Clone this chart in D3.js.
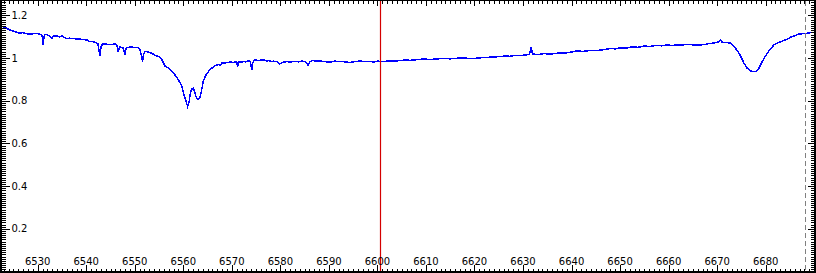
<!DOCTYPE html>
<html><head><meta charset="utf-8">
<script src="https://cdn.jsdelivr.net/npm/d3@7"></script>
<style>html,body{margin:0;padding:0;background:#fff;overflow:hidden}</style>
</head><body>
<svg id="c" width="816" height="273"></svg>
<script>
// Wavelength (Angstrom) and normalised flux
const wavelength = [
6522.2,6522.9,6523.6,6524.3,6525.0,6525.7,6526.35,6527.0,6527.4,6527.9,6528.4,6529.1,6529.8,6530.3,6530.7,6531.0,6531.15,6531.3,6531.5,6531.85,
6532.2,6532.5,6532.9,6533.25,6533.7,6534.2,6534.6,6535.0,6535.5,6536.0,6536.5,6537.1,6537.7,6538.3,6538.7,6539.1,6539.6,6540.2,6540.5,6540.8,
6541.3,6541.8,6542.1,6542.4,6542.6,6542.8,6543.0,6543.1,6543.4,6543.65,6544.3,6544.9,6545.5,6546.1,6546.35,6546.6,6546.8,6546.96,6547.3,6547.6,
6547.85,6548.0,6548.15,6548.3,6548.7,6549.0,6549.5,6550.05,6550.4,6550.7,6551.1,6551.4,6551.6,6551.8,6552.1,6552.4,6552.7,6553.1,6553.5,6554.0,
6554.5,6555.0,6555.3,6555.55,6555.9,6556.2,6556.6,6557.0,6557.3,6557.8,6558.3,6558.7,6559.0,6559.4,6559.7,6560.15,6560.6,6560.9,6561.2,6561.5,
6561.8,6562.1,6562.35,6562.6,6562.85,6563.1,6563.4,6563.65,6564.1,6564.4,6564.8,6565.3,6565.85,6566.5,6567.2,6567.6,6568.0,6568.5,6568.9,6569.3,
6569.8,6570.4,6571.0,6571.2,6571.5,6572.0,6572.4,6572.9,6573.4,6573.8,6574.0,6574.1,6574.3,6574.5,6574.8,6575.2,6575.6,6576.0,6576.5,6576.9,
6577.25,6577.7,6578.2,6578.6,6579.1,6579.5,6579.9,6580.3,6580.75,6581.4,6582.0,6582.6,6583.2,6583.8,6584.5,6585.1,6585.5,6585.7,6586.0,6586.5,
6587.3,6588.2,6589.2,6590.2,6591.2,6592.3,6593.3,6594.35,6595.4,6596.4,6597.4,6598.5,6599.3,6600.1,6600.8,6601.6,6602.6,6603.65,6604.7,6605.7,
6606.7,6607.75,6608.8,6609.8,6610.9,6611.9,6612.9,6613.9,6615.0,6616.0,6617.0,6618.05,6619.1,6620.1,6621.2,6622.2,6623.2,6624.2,6625.3,6626.3,
6627.3,6628.35,6629.4,6630.4,6631.2,6631.5,6631.7,6631.9,6632.05,6633.1,6634.3,6635.4,6636.6,6637.6,6638.65,6639.9,6641.1,6642.4,6643.8,6644.9,
6645.9,6647.0,6648.1,6649.0,6650.0,6651.2,6652.5,6653.7,6655.0,6656.2,6657.5,6658.6,6659.7,6660.7,6661.75,6663.1,6664.4,6665.8,6667.3,6668.0,
6668.5,6669.2,6669.8,6670.3,6670.7,6671.0,6671.45,6672.1,6672.8,6673.3,6673.8,6674.4,6674.9,6675.55,6676.2,6676.9,6677.4,6677.9,6678.3,6678.6,
6679.3,6679.8,6680.3,6681.0,6681.7,6682.4,6683.1,6684.0,6684.6,6685.1,6686.0,6686.85,6687.4,6687.9,6688.6,6689.1,6689.55,6690.4
];
const flux = [
1.152,1.147,1.139,1.131,1.126,1.121,1.116,1.119,1.115,1.113,1.112,1.114,1.116,1.112,1.110,1.098,1.061,1.100,1.110,1.111,
1.106,1.103,1.092,1.103,1.104,1.101,1.099,1.103,1.096,1.091,1.093,1.091,1.090,1.089,1.090,1.087,1.086,1.084,1.080,1.076,
1.077,1.073,1.070,1.066,1.040,1.009,1.045,1.056,1.066,1.066,1.064,1.063,1.064,1.066,1.058,1.030,1.048,1.052,1.050,1.047,
1.030,1.014,1.040,1.047,1.050,1.052,1.051,1.049,1.050,1.047,1.037,1.010,0.983,1.015,1.030,1.031,1.028,1.025,1.022,1.016,
1.009,1.007,1.001,0.994,0.978,0.963,0.958,0.951,0.944,0.933,0.920,0.909,0.897,0.882,0.866,0.827,0.795,0.772,0.795,0.842,
0.855,0.858,0.840,0.819,0.809,0.807,0.815,0.835,0.889,0.908,0.925,0.940,0.952,0.963,0.970,0.967,0.977,0.976,0.978,0.980,
0.981,0.979,0.983,0.959,0.981,0.980,0.983,0.982,0.987,0.984,0.960,0.944,0.975,0.986,0.991,0.989,0.988,0.992,0.991,0.989,
0.986,0.988,0.983,0.985,0.984,0.980,0.972,0.979,0.981,0.983,0.981,0.983,0.984,0.982,0.986,0.983,0.975,0.967,0.980,0.988,
0.986,0.986,0.983,0.981,0.985,0.984,0.982,0.979,0.983,0.986,0.983,0.984,0.981,0.986,0.983,0.984,0.987,0.986,0.988,0.991,
0.989,0.991,0.994,0.995,0.993,0.995,0.997,0.998,0.996,0.998,1.000,1.000,0.997,0.998,1.001,1.002,1.004,1.005,1.007,1.009,
1.008,1.012,1.011,1.014,1.016,1.030,1.050,1.025,1.019,1.016,1.021,1.018,1.021,1.024,1.023,1.028,1.033,1.031,1.035,1.034,
1.037,1.040,1.045,1.043,1.047,1.046,1.052,1.050,1.056,1.054,1.059,1.057,1.061,1.059,1.061,1.062,1.063,1.060,1.063,1.066,
1.068,1.070,1.073,1.076,1.084,1.075,1.073,1.072,1.069,1.060,1.045,1.026,1.006,0.975,0.952,0.939,0.936,0.936,0.942,0.952,
0.983,1.003,1.022,1.043,1.061,1.070,1.076,1.084,1.090,1.097,1.105,1.112,1.113,1.115,1.116,1.118,1.119,1.119
];
const xTickLabels = [6530,6540,6550,6560,6570,6580,6590,6600,6610,6620,6630,6640,6650,6660,6670,6680];
const yTickValues = [0.2,0.4,0.6,0.8,1.0,1.2];
const yTickLabels = ["0.2","0.4","0.6","0.8","1","1.2"];
const markerRed = 6600.5;
const markerDashed = 6688.2;

const W = 816, H = 273;
const svg = d3.select("#c");
const x = d3.scaleLinear().domain([6522.23, 6690.37]).range([0, 816]);
const y = d3.scaleLinear().domain([0, 1.2717]).range([271.5, 0]);

const data = wavelength.map((w, i) => ({w, f: flux[i]}));

// curve
svg.append("path").datum(data)
  .attr("fill", "none").attr("stroke", "#0000ff").attr("stroke-width", 1.5)
  .attr("shape-rendering", "crispEdges")
  .attr("d", d3.line().x(d => x(d.w)).y(d => y(d.f)));

// markers
svg.append("line").attr("x1", Math.round(x(markerRed)) + 0.5).attr("x2", Math.round(x(markerRed)) + 0.5)
  .attr("y1", 1).attr("y2", 271).attr("stroke", "#d40000").attr("stroke-width", 1.2);
svg.append("line").attr("x1", Math.round(x(markerDashed)) + 0.5).attr("x2", Math.round(x(markerDashed)) + 0.5)
  .attr("y1", 1).attr("y2", 271).attr("stroke", "#808080").attr("stroke-width", 1)
  .attr("stroke-dasharray", "5,3");

const g = svg.append("g").attr("shape-rendering", "crispEdges").attr("stroke", "#000").attr("stroke-width", 1);

// x ticks (bottom & top)
const xMinor = d3.range(6523, 6691, 1);
xMinor.forEach(v => {
  const major = v % 10 === 0;
  const px = Math.round(x(v)) + 0.5;
  g.append("line").attr("x1", px).attr("x2", px).attr("y1", 272).attr("y2", major ? 265 : 268.5);
  g.append("line").attr("x1", px).attr("x2", px).attr("y1", 0).attr("y2", major ? 6 : 4);
});
// y ticks (left & right)
const yMinor = d3.range(1, 128, 1).map(k => k / 100);
yMinor.forEach(v => {
  const major = (Math.round(v * 100) % 20) === 0;
  const py = Math.round(y(v)) + 0.5;
  g.append("line").attr("x1", 0).attr("x2", major ? 10 : 5.5).attr("y1", py).attr("y2", py);
  g.append("line").attr("x1", 816).attr("x2", major ? 807.5 : 811).attr("y1", py).attr("y2", py);
});

// frame
svg.append("rect").attr("x", 0.5).attr("y", 0.5).attr("width", 815).attr("height", 271)
  .attr("fill", "none").attr("stroke", "#000").attr("stroke-width", 1).attr("shape-rendering", "crispEdges");
svg.append("rect").attr("x", 0).attr("y", 0).attr("width", 2).attr("height", 273).attr("fill", "#000");
svg.append("rect").attr("x", 0).attr("y", 271).attr("width", 816).attr("height", 2).attr("fill", "#000");
svg.append("rect").attr("x", 814).attr("y", 0).attr("width", 2).attr("height", 273).attr("fill", "#000");

// labels
const font = "'DejaVu Sans', Verdana, sans-serif";
svg.append("g").selectAll("text").data(xTickLabels).join("text")
  .attr("x", d => x(d)).attr("y", 265).attr("text-anchor", "middle")
  .attr("font-family", font).attr("font-size", 10).attr("fill", "#000")
  .text(d => d);
svg.append("g").selectAll("text").data(yTickValues).join("text")
  .attr("x", 11.5).attr("y", d => y(d)).attr("dy", "0.36em")
  .attr("font-family", font).attr("font-size", 10).attr("fill", "#000")
  .text((d, i) => yTickLabels[i]);
</script>
</body></html>
